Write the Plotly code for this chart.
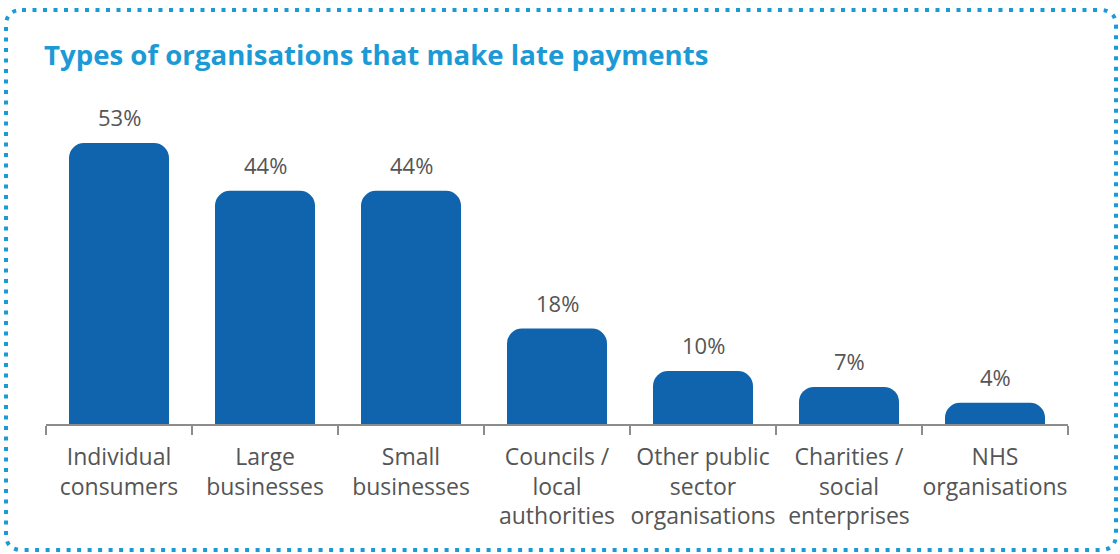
import plotly.graph_objects as go

# Share of respondents reporting late payments, by type of organisation
categories = [
    "Individual<br>consumers",
    "Large<br>businesses",
    "Small<br>businesses",
    "Councils /<br>local<br>authorities",
    "Other public<br>sector<br>organisations",
    "Charities /<br>social<br>enterprises",
    "NHS<br>organisations",
]
values = [53, 44, 44, 18, 10, 7, 4]
value_labels = [f"{v}%" for v in values]

title_text = "Types of organisations that make late payments"

W, H = 1120, 554
M_L, M_R, M_T, M_B = 46, 52, 106, 130
Y_MAX = 60

BAR_BLUE = "#1064AE"
TITLE_BLUE = "#1B9AD6"
TEXT_GREY = "#555555"
AXIS_GREY = "#8C8C8C"
LABEL_FONT = "Open Sans"

fig = go.Figure(
    go.Bar(
        x=categories,
        y=values,
        marker=dict(color=BAR_BLUE, cornerradius=15, line=dict(width=0)),
        hoverinfo="skip",
    )
)

# Percentage labels above each bar
for cat, val, lab in zip(categories, values, value_labels):
    fig.add_annotation(
        x=cat, y=val, text=lab, showarrow=False,
        yanchor="middle", yshift=26,
        font=dict(family=LABEL_FONT, size=22, color=TEXT_GREY),
    )

# Title, placed in pixels relative to the plot area
plot_w = W - M_L - M_R
plot_h = H - M_T - M_B


def px_x(px):
    return (px - M_L) / plot_w


def px_y(py):
    return (H - M_B - py) / plot_h


fig.add_annotation(
    xref="paper", yref="paper", x=px_x(42), y=px_y(54),
    xanchor="left", yanchor="middle", showarrow=False,
    text=f"<b>{title_text}</b>",
    font=dict(family="Open Sans", size=27.6, color=TITLE_BLUE),
)

# Dotted rounded frame around the whole graphic
x0, y0, x1, y1, r = 6, 10, 1116, 550, 16
path = (
    f"M {px_x(x0 + r)},{px_y(y0)} L {px_x(x1 - r)},{px_y(y0)} "
    f"Q {px_x(x1)},{px_y(y0)} {px_x(x1)},{px_y(y0 + r)} "
    f"L {px_x(x1)},{px_y(y1 - r)} "
    f"Q {px_x(x1)},{px_y(y1)} {px_x(x1 - r)},{px_y(y1)} "
    f"L {px_x(x0 + r)},{px_y(y1)} "
    f"Q {px_x(x0)},{px_y(y1)} {px_x(x0)},{px_y(y1 - r)} "
    f"L {px_x(x0)},{px_y(y0 + r)} "
    f"Q {px_x(x0)},{px_y(y0)} {px_x(x0 + r)},{px_y(y0)} Z"
)
fig.add_shape(
    type="path", xref="paper", yref="paper", path=path,
    line=dict(color=TITLE_BLUE, width=4, dash="4px,6.5px"),
    layer="above",
)

fig.update_layout(
    width=W, height=H,
    margin=dict(l=M_L, r=M_R, t=M_T, b=M_B),
    paper_bgcolor="white", plot_bgcolor="white",
    bargap=0.315,
    showlegend=False,
    xaxis=dict(
        showline=True, linecolor=AXIS_GREY, linewidth=2,
        ticks="outside", tickson="boundaries", ticklen=9,
        tickcolor=AXIS_GREY, tickwidth=2,
        ticklabelstandoff=11, tickangle=0, automargin=False,
        tickfont=dict(family=LABEL_FONT, size=23, color=TEXT_GREY),
        showgrid=False, zeroline=False, fixedrange=True,
    ),
    yaxis=dict(
        range=[0, Y_MAX], visible=False, showgrid=False,
        zeroline=False, fixedrange=True, automargin=False,
    ),
)

fig.write_html("out.html")
